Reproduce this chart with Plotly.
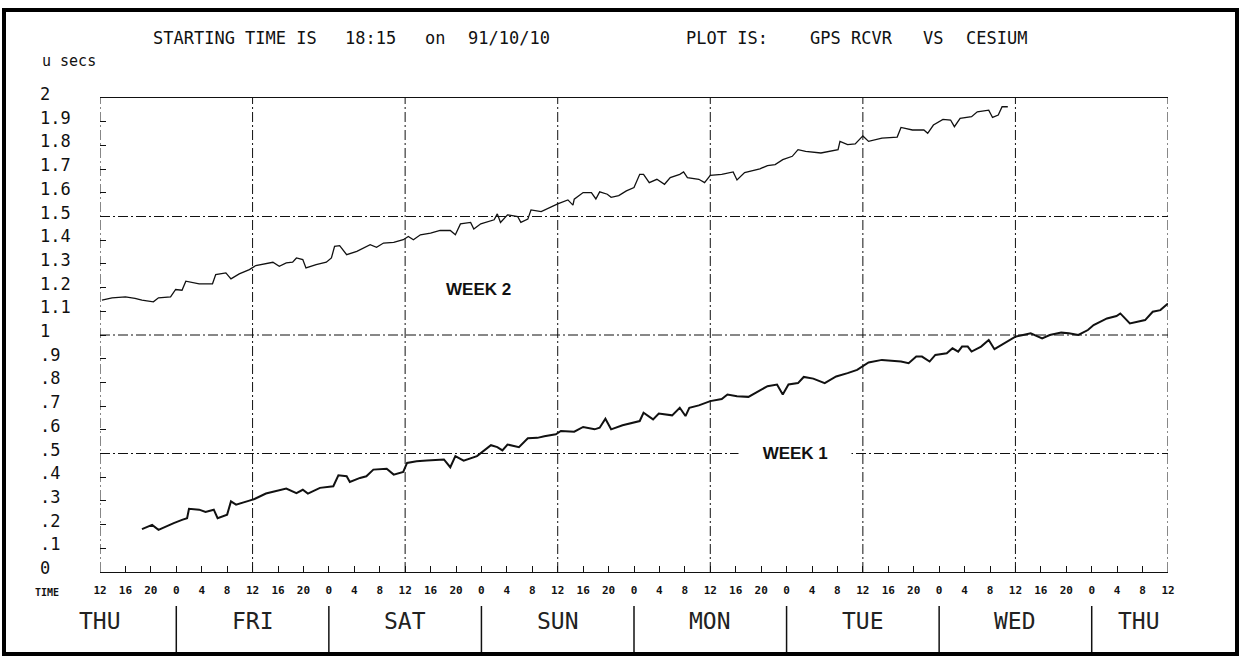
import plotly.graph_objects as go

# ---------------- data (hours counted from Thursday 12:00) ----------------
week1_hours = [6.6, 8.2, 9.2, 10.8, 11.6, 12.9, 13.7, 14.0, 15.6, 16.6, 17.9, 18.5, 20.0, 20.6, 21.4,
               23.5, 24.3, 26.1, 29.3, 30.9, 31.9, 32.7, 34.6, 36.7, 37.5, 38.8, 39.3, 40.9, 41.9,
               43.0, 45.1, 46.2, 47.7, 48.3, 49.8, 51.4, 54.1, 55.1, 55.9, 57.2, 59.3, 61.5, 62.5,
               63.3, 64.1, 65.9, 67.3, 68.8, 69.9, 71.7, 72.5, 74.6, 76.0, 77.8, 78.6, 79.5, 80.4,
               82.2, 84.9, 85.5, 87.0, 87.9, 90.0, 91.2, 92.1, 92.7, 94.2, 96.0, 97.8, 98.7, 100.2,
               102.0, 103.2, 105.0, 106.5, 107.4, 108.3, 109.8, 110.7, 112.2, 114.0, 115.8, 117.6,
               119.1, 120.9, 123.0, 126.0, 127.2, 128.4, 129.3, 130.5, 131.4, 133.2, 134.1, 135.0,
               135.6, 136.5, 137.1, 138.6, 139.8, 140.7, 142.2, 144.0, 145.2, 146.4, 148.2, 149.4,
               151.2, 152.4, 153.9, 155.4, 156.3, 158.4, 159.9, 160.5, 162.0, 163.2, 164.4, 165.6,
               166.8, 168.0]
week1_usec = [0.181, 0.199, 0.178, 0.199, 0.206, 0.220, 0.227, 0.267, 0.263, 0.253, 0.263, 0.227, 0.242,
              0.298, 0.284, 0.301, 0.308, 0.331, 0.352, 0.333, 0.347, 0.331, 0.355, 0.362, 0.408, 0.404,
              0.380, 0.397, 0.404, 0.432, 0.436, 0.411, 0.422, 0.460, 0.467, 0.470, 0.475, 0.442, 0.489,
              0.470, 0.489, 0.535, 0.527, 0.513, 0.538, 0.527, 0.564, 0.566, 0.573, 0.581, 0.595, 0.592,
              0.612, 0.602, 0.609, 0.647, 0.602, 0.619, 0.637, 0.672, 0.644, 0.669, 0.661, 0.693, 0.658,
              0.693, 0.703, 0.721, 0.730, 0.749, 0.742, 0.739, 0.756, 0.784, 0.791, 0.749, 0.791, 0.797,
              0.823, 0.816, 0.797, 0.825, 0.839, 0.853, 0.884, 0.895, 0.888, 0.881, 0.909, 0.909, 0.888,
              0.916, 0.923, 0.944, 0.930, 0.951, 0.951, 0.930, 0.951, 0.979, 0.940, 0.965, 0.993, 1.000,
              1.007, 0.986, 1.000, 1.010, 1.007, 1.000, 1.021, 1.042, 1.070, 1.080, 1.091, 1.049, 1.056,
              1.063, 1.098, 1.105, 1.133]

week2_hours = [0.3, 1.9, 4.0, 5.5, 6.6, 8.4, 9.2, 11.1, 11.9, 12.9, 13.5, 14.5, 15.6, 17.7, 18.2, 19.8,
               20.6, 21.9, 23.5, 24.5, 27.2, 28.2, 29.3, 30.3, 30.9, 31.9, 32.4, 34.0, 35.6, 36.4,
               36.9, 37.7, 38.8, 40.4, 41.4, 42.5, 43.5, 44.6, 46.2, 47.7, 48.5, 49.3, 50.4, 52.0,
               53.5, 55.1, 55.9, 56.7, 58.3, 58.8, 59.9, 62.0, 62.5, 63.0, 64.1, 65.7, 66.2, 67.3,
               67.8, 69.4, 72.0, 73.6, 74.4, 74.6, 76.0, 77.3, 78.0, 78.6, 79.8, 80.4, 81.6, 82.8,
               84.0, 84.9, 85.5, 86.4, 87.6, 88.8, 89.7, 91.2, 91.8, 92.4, 94.2, 95.1, 96.0, 97.8,
               99.6, 100.2, 101.4, 102.6, 103.8, 105.0, 106.2, 107.4, 108.9, 109.8, 111.0, 113.4,
               114.6, 116.1, 116.4, 117.6, 118.8, 120.0, 120.9, 123.0, 125.4, 126.0, 127.8, 129.6,
               130.2, 131.1, 132.6, 133.8, 134.4, 135.3, 137.1, 138.0, 139.8, 140.4, 141.3, 141.9,
               142.8]
week2_usec = [1.147, 1.157, 1.161, 1.155, 1.147, 1.140, 1.157, 1.161, 1.192, 1.189, 1.227, 1.223, 1.216,
              1.216, 1.255, 1.262, 1.237, 1.258, 1.276, 1.293, 1.307, 1.290, 1.304, 1.307, 1.325, 1.318,
              1.283, 1.297, 1.307, 1.325, 1.374, 1.377, 1.339, 1.353, 1.367, 1.381, 1.370, 1.388, 1.391,
              1.402, 1.416, 1.402, 1.423, 1.430, 1.441, 1.441, 1.423, 1.469, 1.475, 1.447, 1.469, 1.486,
              1.511, 1.475, 1.507, 1.500, 1.475, 1.489, 1.528, 1.521, 1.553, 1.570, 1.548, 1.573, 1.601,
              1.601, 1.574, 1.604, 1.594, 1.581, 1.588, 1.608, 1.622, 1.678, 1.678, 1.643, 1.657, 1.636,
              1.664, 1.678, 1.688, 1.664, 1.657, 1.643, 1.674, 1.678, 1.688, 1.654, 1.685, 1.692, 1.701,
              1.715, 1.719, 1.740, 1.754, 1.782, 1.775, 1.768, 1.775, 1.782, 1.817, 1.803, 1.806, 1.840,
              1.817, 1.831, 1.835, 1.876, 1.865, 1.865, 1.851, 1.886, 1.910, 1.907, 1.879, 1.914, 1.921,
              1.942, 1.949, 1.918, 1.928, 1.963, 1.963]

time_tick_hours = [0, 4, 8, 12, 16, 20, 24, 28, 32, 36, 40, 44, 48, 52, 56, 60, 64, 68, 72, 76, 80, 84,
                   88, 92, 96, 100, 104, 108, 112, 116, 120, 124, 128, 132, 136, 140, 144, 148, 152,
                   156, 160, 164, 168]
time_tick_labels = ["12", "16", "20", "0", "4", "8", "12", "16", "20", "0", "4", "8", "12", "16", "20",
                    "0", "4", "8", "12", "16", "20", "0", "4", "8", "12", "16", "20", "0", "4", "8",
                    "12", "16", "20", "0", "4", "8", "12", "16", "20", "0", "4", "8", "12"]

day_names = ["THU", "FRI", "SAT", "SUN", "MON", "TUE", "WED", "THU"]
day_label_hours = [0, 24, 48, 72, 96, 120, 144, 163.5]
day_boundary_hours = [12, 36, 60, 84, 108, 132, 156]
grid_hours = [0, 24, 48, 72, 96, 120, 144, 168]
grid_levels = [0.5, 1.0, 1.5]

y_tick_values = [0, 0.1, 0.2, 0.3, 0.4, 0.5, 0.6, 0.7, 0.8, 0.9, 1.0, 1.1, 1.2, 1.3, 1.4, 1.5, 1.6,
                 1.7, 1.8, 1.9, 2.0]
y_tick_labels = ["0", ".1", ".2", ".3", ".4", ".5", ".6", ".7", ".8", ".9", "1", "1.1", "1.2", "1.3",
                 "1.4", "1.5", "1.6", "1.7", "1.8", "1.9", "2"]

header_left = [("STARTING TIME IS", 151), ("18:15", 343), ("on", 423), ("91/10/10", 466)]
header_right = [("PLOT IS:", 684), ("GPS RCVR", 808), ("VS", 921), ("CESIUM", 964)]
unit_label = "u secs"
week_labels = [("WEEK 2", 59.5, 1.19), ("WEEK 1", 109.3, 0.5)]

# ---------------- layout geometry ----------------
W, H = 1241, 658
L, R, T, B = 100, 1168, 98, 572


def px2x(px):
    return (px - L) / (R - L)


def py2y(py):
    return (B - py) / (B - T)


MONO = "DejaVu Sans Mono"
INK = "#111111"
DASHDOT = "10px,3px,2px,3px"

fig = go.Figure()
fig.add_trace(go.Scatter(x=week2_hours, y=week2_usec, mode="lines", name="WEEK 2",
                         line=dict(color=INK, width=1.3), hoverinfo="skip"))
fig.add_trace(go.Scatter(x=week1_hours, y=week1_usec, mode="lines", name="WEEK 1",
                         line=dict(color=INK, width=2), hoverinfo="skip"))

shapes = []
for h in grid_hours:
    shapes.append(dict(type="line", xref="x", yref="y", x0=h, x1=h, y0=0, y1=2,
                       line=dict(color=INK, width=1, dash=DASHDOT), layer="below"))
for v in grid_levels:
    shapes.append(dict(type="line", xref="x", yref="y", x0=0, x1=168, y0=v, y1=v,
                       line=dict(color=INK, width=1, dash=DASHDOT), layer="below"))
for h in day_boundary_hours:
    shapes.append(dict(type="line", xref="x", yref="paper", x0=h, x1=h,
                       y0=py2y(606), y1=py2y(653), line=dict(color=INK, width=1.5)))
# outer frame
shapes.append(dict(type="rect", xref="paper", yref="paper", x0=px2x(4), x1=px2x(1237),
                   y0=py2y(654), y1=py2y(10), line=dict(color="black", width=4)))

annotations = []
for txt, xp in header_left + header_right:
    annotations.append(dict(text=txt, xref="paper", yref="paper", x=px2x(xp), y=py2y(38),
                            xanchor="left", yanchor="middle", showarrow=False,
                            font=dict(family=MONO, size=17, color=INK)))
annotations.append(dict(text=unit_label, xref="paper", yref="paper", x=px2x(40), y=py2y(61),
                        xanchor="left", yanchor="middle", showarrow=False,
                        font=dict(family=MONO, size=15, color=INK)))
for v, lab in zip(y_tick_values, y_tick_labels):
    annotations.append(dict(text=lab, xref="paper", yref="y", x=px2x(38), y=v, yshift=4,
                            xanchor="left", yanchor="middle", showarrow=False,
                            font=dict(family=MONO, size=17, color=INK)))
annotations.append(dict(text="<b>TIME</b>", xref="paper", yref="paper", x=px2x(33), y=py2y(592),
                        xanchor="left", yanchor="middle", showarrow=False,
                        font=dict(family=MONO, size=10, color=INK)))
for name, h in zip(day_names, day_label_hours):
    annotations.append(dict(text=name, xref="x", yref="paper", x=h, y=py2y(621),
                            xanchor="center", yanchor="middle", showarrow=False,
                            font=dict(family=MONO, size=23, color="#222222")))
for txt, h, v in week_labels:
    pad = "&nbsp;" * 5 if v == 0.5 else ""
    annotations.append(dict(text=pad + "<b>" + txt + "</b>" + pad, xref="x", yref="y", x=h, y=v,
                            xanchor="center", yanchor="middle", showarrow=False,
                            bgcolor="white" if v == 0.5 else "rgba(0,0,0,0)", borderpad=0,
                            font=dict(family="Liberation Sans", size=17, color=INK)))

fig.update_layout(
    width=W, height=H,
    margin=dict(l=L, r=W - R, t=T, b=H - B),
    paper_bgcolor="white", plot_bgcolor="white",
    showlegend=False,
    shapes=shapes,
    annotations=annotations,
    xaxis=dict(range=[0, 168], tickmode="array", tickvals=time_tick_hours,
               ticktext=["<b>" + t + "</b>" for t in time_tick_labels],
               ticks="inside", ticklen=6, tickwidth=1, tickcolor=INK,
               tickfont=dict(family=MONO, size=11, color=INK),
               ticklabelstandoff=8,
               showline=True, linecolor=INK, linewidth=1, mirror=True,
               showgrid=False, zeroline=False, fixedrange=True),
    yaxis=dict(range=[0, 2], tickmode="array", tickvals=y_tick_values, showticklabels=False,
               ticks="inside", ticklen=6, tickwidth=1, tickcolor=INK,
               showline=False, showgrid=False, zeroline=False, fixedrange=True),
)

fig.write_html("out.html", config={"displayModeBar": False},
               post_script="document.body.style.margin='0';document.body.style.overflow='hidden';")
